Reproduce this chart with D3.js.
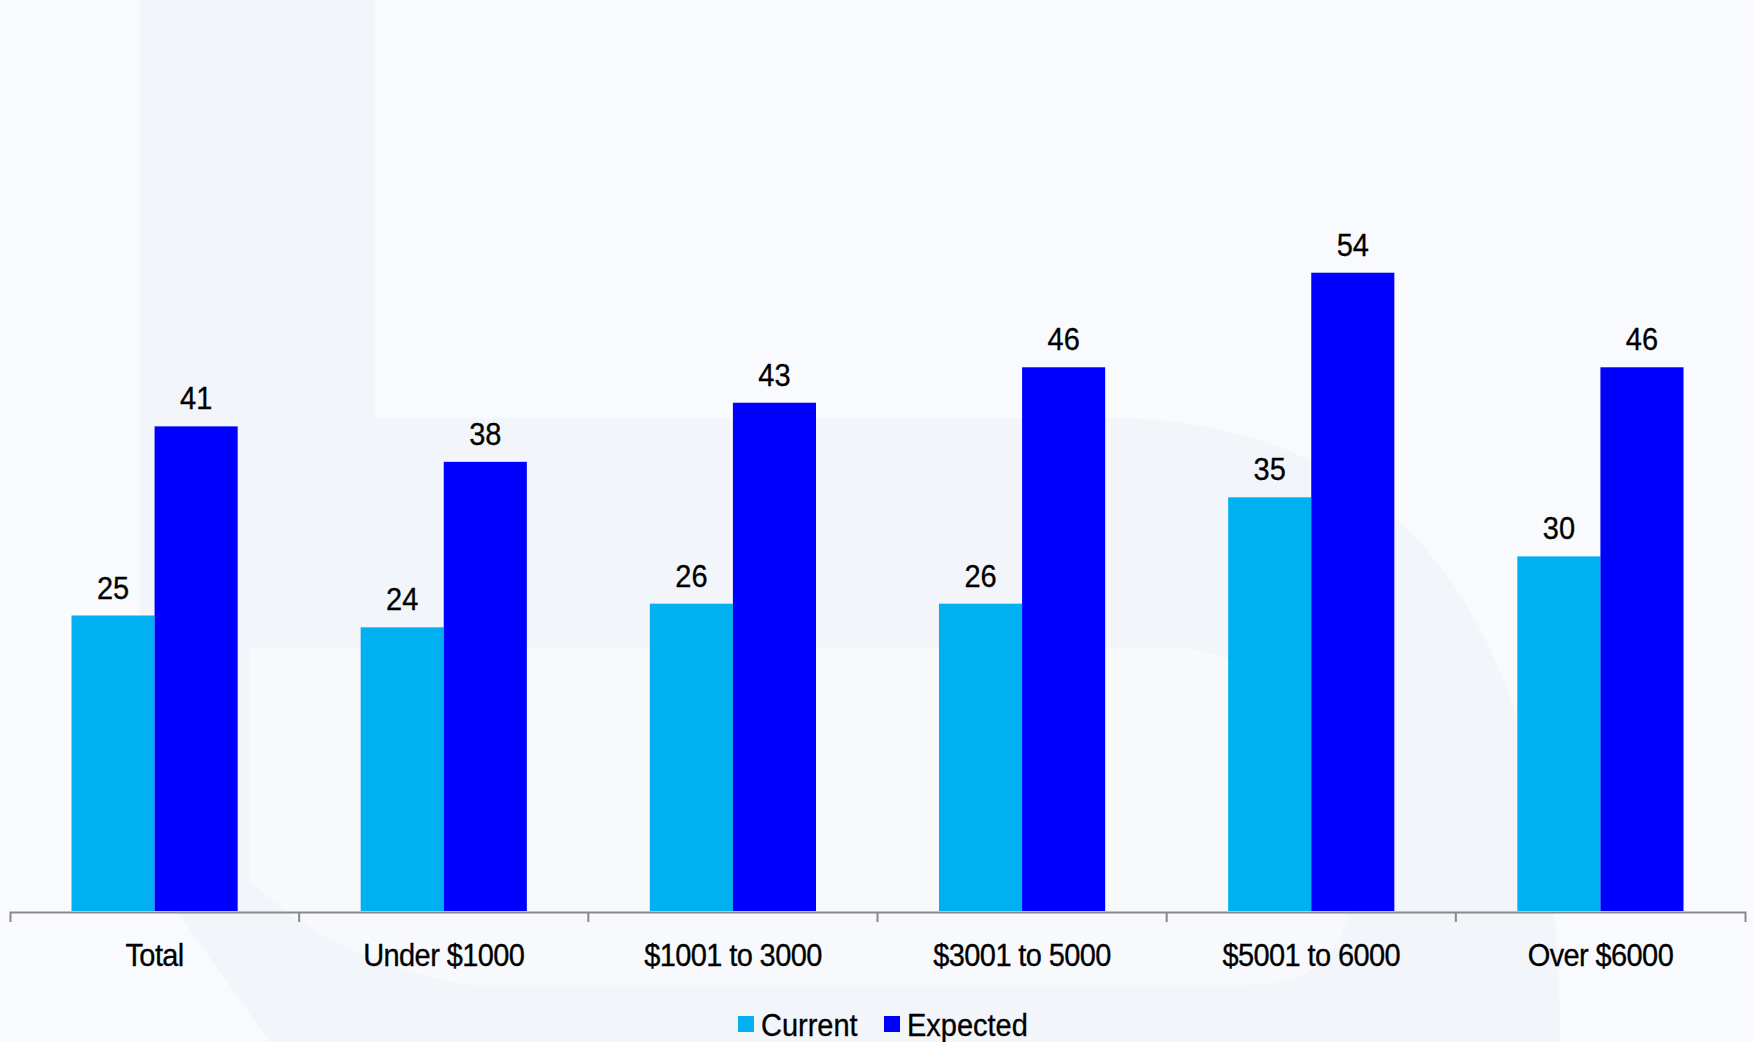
<!DOCTYPE html>
<html>
<head>
<meta charset="utf-8">
<script src="https://cdn.jsdelivr.net/npm/d3@7"></script>
<style>
  html, body { margin: 0; padding: 0; background: #F9FAFD; }
  svg { display: block; }
  text { font-family: "Liberation Sans", Arial, sans-serif; fill: #000; stroke: #000; stroke-width: 0.3px; }
</style>
</head>
<body>
<svg id="chart" width="1753" height="1042"></svg>
<script>
// Income brackets along the x axis
const categories = ["Total", "Under $1000", "$1001 to 3000", "$3001 to 5000", "$5001 to 6000", "Over $6000"];
// Series names shown in the legend
const seriesNames = ["Current", "Expected"];
// Values per series, one per category
const currentValues = [25, 24, 26, 26, 35, 30];
const expectedValues = [41, 38, 43, 46, 54, 46];

const colors = { Current: "#00B0F0", Expected: "#0000FF" };

const W = 1753, H = 1042;
const svg = d3.select("#chart");

// Faint watermark shapes in the background
const bg = svg.append("g");
bg.append("rect").attr("width", W).attr("height", H).attr("fill", "#F9FAFD");
const shade = "#F2F5FA";
bg.append("rect").attr("x", 140).attr("y", 0).attr("width", 235).attr("height", 900).attr("fill", shade);
bg.append("path")
  .attr("d", "M140,418 L1120,418 Q1560,430 1560,1042 L270,1042 Q190,930 140,860 Z")
  .attr("fill", shade);
bg.append("path")
  .attr("d", "M250,648 L1180,648 Q1330,660 1350,900 Q1340,985 1250,985 L470,985 Q330,960 250,880 Z")
  .attr("fill", "#F8F9FC");

const yZero = 911;
const x0 = d3.scaleBand().domain(categories).range([10, 1745]).paddingInner(0).paddingOuter(0);
const bw = x0.bandwidth();
const x1 = d3.scaleBand().domain(seriesNames).range([61.5, bw - 61.5]).padding(0);
const y = d3.scaleLinear().domain([0, 60]).range([yZero, yZero - 60 * 11.82]);

const rows = categories.map((c, i) => ({
  category: c,
  values: [
    { key: "Current", value: currentValues[i] },
    { key: "Expected", value: expectedValues[i] }
  ]
}));

const groups = svg.append("g").selectAll("g").data(rows).join("g")
  .attr("transform", d => `translate(${x0(d.category)},0)`);

groups.selectAll("rect").data(d => d.values).join("rect")
  .attr("x", d => x1(d.key))
  .attr("y", d => y(d.value))
  .attr("width", x1.bandwidth())
  .attr("height", d => y(0) - y(d.value))
  .attr("fill", d => colors[d.key]);

// Value labels above each bar
groups.selectAll("text").data(d => d.values).join("text")
  .attr("text-anchor", "middle")
  .attr("font-size", 29)
  .attr("transform", d => `translate(${x1(d.key) + x1.bandwidth() / 2},${y(d.value) - 17}) scale(1,1.1)`)
  .text(d => d.value);

// Category axis: baseline with end ticks, labels centred in each band
const axis = svg.append("g").attr("transform", `translate(0,${yZero + 1})`)
  .call(d3.axisBottom(x0).tickSizeInner(0).tickSizeOuter(10).tickPadding(0));
axis.select(".domain").attr("stroke", "#898989").attr("stroke-width", 2);
axis.selectAll(".tick text").remove();
axis.selectAll(".tick line").remove();

// Boundary ticks between categories
axis.append("g").selectAll("line").data(categories.slice(1)).join("line")
  .attr("x1", d => x0(d)).attr("x2", d => x0(d))
  .attr("y1", 0).attr("y2", 10)
  .attr("stroke", "#898989").attr("stroke-width", 2);

svg.append("g").selectAll("text").data(categories).join("text")
  .attr("text-anchor", "middle")
  .attr("font-size", 29)
  .attr("letter-spacing", -0.6)
  .attr("transform", d => `translate(${x0(d) + bw / 2},966) scale(1,1.1)`)
  .text(d => d);

// Legend
const legendX = [738, 884];
const legend = svg.append("g").selectAll("g").data(seriesNames).join("g")
  .attr("transform", (d, i) => `translate(${legendX[i]},1016)`);
legend.append("rect").attr("width", 16).attr("height", 16).attr("fill", d => colors[d]);
legend.append("text")
  .attr("x", 23)
  .attr("font-size", 29)
  .attr("transform", "translate(0,20) scale(1,1.05)")
  .text(d => d);
</script>
</body>
</html>
